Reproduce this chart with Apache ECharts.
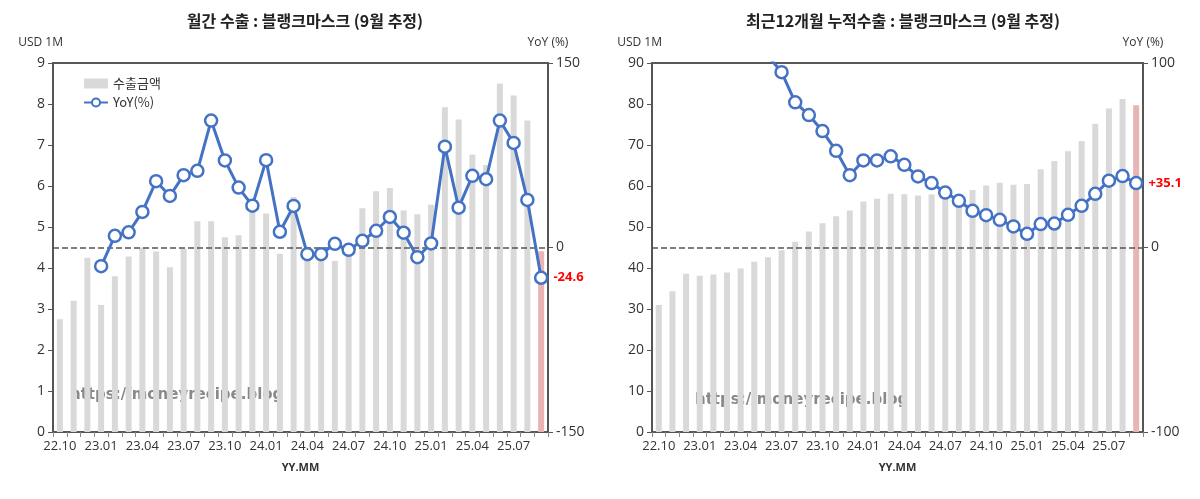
<!DOCTYPE html>
<html>
<head>
<meta charset="utf-8">
<script src="https://cdn.jsdelivr.net/npm/echarts@6/dist/echarts.min.js"></script>
<style>html,body{margin:0;padding:0;background:#fff}#main{width:1200px;height:499px}</style>
</head>
<body>
<div id="main"></div>
<script>
var months = ['22.10','22.11','22.12','23.01','23.02','23.03','23.04','23.05','23.06','23.07','23.08','23.09',
    '23.10','23.11','23.12','24.01','24.02','24.03','24.04','24.05','24.06','24.07','24.08','24.09',
    '24.10','24.11','24.12','25.01','25.02','25.03','25.04','25.05','25.06','25.07','25.08','25.09'];
var monthlyExport = [2.75,3.2,4.25,3.1,3.8,4.28,4.5,4.4,4.02,4.47,5.14,5.14,
    4.75,4.8,5.5,5.33,4.35,5.73,4.3,4.4,4.17,4.5,5.46,5.87,
    5.95,5.4,5.31,5.54,7.92,7.62,6.77,6.51,8.5,8.21,7.6,4.41];
var monthlyYoy = [null,null,null,-15.2,9.5,12.3,28.9,53.9,41.9,58.8,62.3,103.2,
    70.8,48.7,34,71,12.8,33.8,-5.4,-5.4,3,-1.9,5.4,13.6,
    24.8,12,-7.9,3.3,82,32.4,58.3,55.5,103.2,85,38.7,-24.6];
var rollingExport = [31.0,34.3,38.6,38.1,38.4,38.9,39.9,41.5,42.6,44.3,46.4,48.9,
    50.9,52.6,54.0,56.2,56.9,58.1,58,57.7,57.9,57.4,58,59,
    60.1,60.8,60.3,60.5,64.1,66.1,68.5,71,75.2,78.9,81.2,79.7];
var rollingYoy = [null,null,null,null,null,null,null,null,104,95,78.7,71.8,
    63.1,52.4,39.2,47.2,47.2,49.4,44.8,38.5,34.9,29.8,25.3,19.9,
    17.5,15,11.4,7.4,12.7,13,17.7,22.6,29.1,36.2,38.7,34.9];
var leftTitle = '월간 수출 : 블랭크마스크 (9월 추정)';
var rightTitle = '최근12개월 누적수출 : 블랭크마스크 (9월 추정)';

var FONT = '"Noto Sans CJK KR", "Noto Sans", sans-serif';
var LATIN = '"Open Sans", "Noto Sans", sans-serif';
var chart = echarts.init(document.getElementById('main'));

function barData(arr) {
    return arr.map(function (v, i) {
        return i === arr.length - 1 ? { value: v, itemStyle: { color: '#e8b4b4' } } : v;
    });
}
function lineData(arr, label, off) {
    return arr.map(function (v, i) {
        if (i !== arr.length - 1) return v;
        return { value: v, label: { show: true, position: 'right', offset: off, formatter: label,
            color: '#ff0000', fontWeight: 'bold', fontSize: 13, fontFamily: LATIN } };
    });
}
function xAxis(g) {
    return {
        type: 'category', gridIndex: g, data: months, boundaryGap: true,
        name: 'YY.MM', nameLocation: 'middle', nameGap: 30,
        nameTextStyle: { fontWeight: 'bold', fontSize: 11, color: '#333', fontFamily: LATIN },
        axisLine: { lineStyle: { color: '#555', type: 'dashed' } },
        axisTick: { show: true, interval: 0, lineStyle: { color: '#888' } },
        axisLabel: { interval: 2, color: '#333', fontSize: 13, fontFamily: LATIN }
    };
}
function yAxis(g, min, max, interval, name, right) {
    return {
        type: 'value', gridIndex: g, min: min, max: max, interval: interval,
        position: right ? 'right' : 'left',
        name: name, nameGap: 14,
        nameTextStyle: { color: '#333', fontSize: 12, fontFamily: LATIN, align: right ? 'center' : 'right', padding: right ? [0, 0, 0, 0] : [0, -10, 0, 0] },
        axisLine: { show: true, lineStyle: { color: '#555', width: 2 } },
        axisTick: { show: true, lineStyle: { color: '#555' } },
        axisLabel: { color: '#333', fontSize: 14, fontFamily: LATIN },
        splitLine: { show: false }
    };
}
function lineSeries(x, y, data) {
    return {
        name: 'YoY(%)', type: 'line', xAxisIndex: x, yAxisIndex: y, data: data,
        color: '#4472c4', lineStyle: { width: 3, color: '#4472c4' },
        symbol: 'circle', symbolSize: 12, showAllSymbol: true,
        itemStyle: { color: '#fff', borderColor: '#4472c4', borderWidth: 2.5 },
        labelLayout: { hideOverlap: false },
        clip: true, z: 5,
        markLine: { silent: true, symbol: 'none', label: { show: false },
            lineStyle: { color: '#555', type: 'dashed', width: 1.5 }, data: [{ yAxis: 0 }] }
    };
}
function barSeries(x, y, data) {
    return {
        name: '수출금액', type: 'bar', xAxisIndex: x, yAxisIndex: y, data: data,
        barWidth: 6, itemStyle: { color: '#d9d9d9' }, color: '#d9d9d9'
    };
}

var option = {
    animation: false,
    title: [
        { text: leftTitle, left: 300, top: 8, textAlign: 'center',
            textStyle: { fontSize: 16, fontWeight: 'bold', color: '#222', fontFamily: FONT } },
        { text: rightTitle, left: 898, top: 8, textAlign: 'center',
            textStyle: { fontSize: 16, fontWeight: 'bold', color: '#222', fontFamily: FONT } }
    ],
    legend: [
        { left: 78, top: 72, orient: 'vertical', itemGap: 6, itemWidth: 24, itemHeight: 10,
            textStyle: { fontSize: 13, color: '#333', fontFamily: FONT },
            data: [{ name: '수출금액', icon: 'rect' }, { name: 'YoY(%)' }] }
    ],
    grid: [
        { left: 53, right: 652, top: 63, bottom: 67, show: true, borderColor: '#222', borderWidth: 1.5 },
        { left: 652, right: 57, top: 63, bottom: 67, show: true, borderColor: '#222', borderWidth: 1.5 }
    ],
    xAxis: [xAxis(0), xAxis(1)],
    yAxis: [
        yAxis(0, 0, 9, 1, 'USD 1M', false),
        yAxis(0, -150, 150, 150, 'YoY (%)', true),
        yAxis(1, 0, 90, 10, 'USD 1M', false),
        yAxis(1, -100, 100, 100, 'YoY (%)', true)
    ],
    graphic: [
        { type: 'text', left: 70, top: 388, style: { text: 'https://moneyrecipe.blog', fill: '#888', fontSize: 15, fontWeight: 'bold', fontFamily: '"DejaVu Sans", sans-serif' } },
        { type: 'text', left: 695, top: 393, style: { text: 'https://moneyrecipe.blog', fill: '#888', fontSize: 15, fontWeight: 'bold', fontFamily: '"DejaVu Sans", sans-serif' } }
    ],
    series: [
        barSeries(0, 0, barData(monthlyExport)),
        lineSeries(0, 1, lineData(monthlyYoy, '-24.6', [-4, -16])),
        barSeries(1, 2, barData(rollingExport)),
        lineSeries(1, 3, lineData(rollingYoy, '+35.1', [-4, -10]))
    ]
};
chart.setOption(option);
</script>
</body>
</html>
